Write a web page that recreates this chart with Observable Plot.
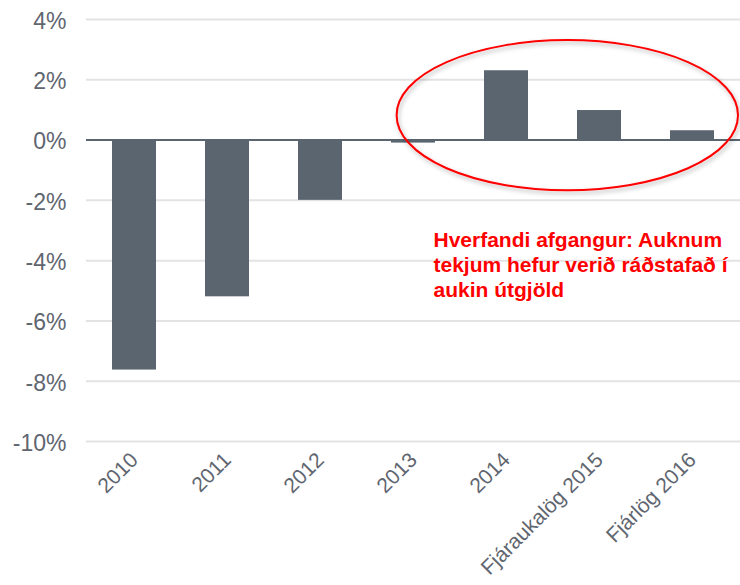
<!DOCTYPE html>
<html><head><meta charset="utf-8">
<script src="https://cdn.jsdelivr.net/npm/d3@7"></script>
<script src="https://cdn.jsdelivr.net/npm/@observablehq/plot@0.6"></script>
<style>body{margin:0;background:#fff} #chart{width:740px;height:585px}</style>
</head><body><div id="chart"></div>
<script>
const categories = ["2010","2011","2012","2013","2014","Fjáraukalög 2015","Fjárlög 2016"];
const values = [-7.63, -5.2, -2.0, -0.1, 2.3, 0.98, 0.31];
const yTicks = [4, 2, 0, -2, -4, -6, -8, -10];
const annotationText = "Hverfandi afgangur: Auknum\ntekjum hefur verið ráðstafað í\naukin útgjöld";
// ellipse annotation in data units: y centre / half-height in %, x from a band to the right edge
const ellipseSpec = {fromCategory: "2013", fromOffset: 0.06, centerY: 0.81, radiusY: 2.49};

const data = categories.map((c, i) => ({category: c, value: values[i]}));

const barColor = "#5b6570";
const labelColor = "#5f6670";
const pInner = 0.53, pOuter = 0.265;

function ellipseMark(index, scales, values, dimensions) {
  const ns = "http://www.w3.org/2000/svg";
  const {width, marginLeft, marginRight} = dimensions;
  const inner = width - marginLeft - marginRight;
  const step = inner / (categories.length - pInner + 2 * pOuter);
  const x0 = scales.x(ellipseSpec.fromCategory) + ellipseSpec.fromOffset * step;
  const x1 = width - marginRight - 2;
  const yc = scales.y(ellipseSpec.centerY);
  const ry = Math.abs(scales.y(ellipseSpec.centerY + ellipseSpec.radiusY) - yc);
  const g = document.createElementNS(ns, "g");
  const defs = document.createElementNS(ns, "defs");
  const filter = document.createElementNS(ns, "filter");
  filter.setAttribute("id", "shadow");
  filter.setAttribute("x", "-10%"); filter.setAttribute("y", "-10%");
  filter.setAttribute("width", "120%"); filter.setAttribute("height", "130%");
  const fe = document.createElementNS(ns, "feDropShadow");
  fe.setAttribute("dx", "1.5"); fe.setAttribute("dy", "2.5");
  fe.setAttribute("stdDeviation", "2");
  fe.setAttribute("flood-color", "#000"); fe.setAttribute("flood-opacity", "0.3");
  filter.appendChild(fe); defs.appendChild(filter); g.appendChild(defs);
  const e = document.createElementNS(ns, "ellipse");
  e.setAttribute("cx", (x0 + x1) / 2);
  e.setAttribute("cy", yc);
  e.setAttribute("rx", (x1 - x0) / 2);
  e.setAttribute("ry", ry);
  e.setAttribute("fill", "none");
  e.setAttribute("stroke", "#ff0000");
  e.setAttribute("stroke-width", "2");
  e.setAttribute("filter", "url(#shadow)");
  g.appendChild(e);
  return g;
}

const plot = Plot.plot({
  width: 740, height: 585,
  marginLeft: 86, marginRight: 0, marginTop: 19, marginBottom: 144,
  style: {fontFamily: "'Liberation Sans', Arial, sans-serif", background: "#fff"},
  x: {domain: categories, paddingInner: pInner, paddingOuter: pOuter, label: null},
  y: {domain: [-10, 4], label: null},
  marks: [
    Plot.ruleY(yTicks.filter(t => t !== 0), {stroke: "#e3e3e3", strokeWidth: 2}),
    Plot.barY(data, {x: "category", y: "value", fill: barColor}),
    Plot.ruleY([0], {stroke: barColor, strokeWidth: 2}),
    Plot.axisY(yTicks, {tickSize: 0, tickPadding: 20, tickFormat: d => d + "%", fontSize: 23, fill: labelColor, dy: 2}),
    Plot.axisX({tickSize: 0, tickPadding: 15, tickRotate: -45, fontSize: 21, fill: labelColor}),
    ellipseMark,
    Plot.text([annotationText], {
      x: () => "2013", y: () => -2.94, text: d => d, dx: 20,
      textAnchor: "start", lineAnchor: "top", lineHeight: 1.2,
      fontSize: 21, fontWeight: "bold", fill: "#ff0000"
    })
  ]
});
document.getElementById("chart").appendChild(plot);
</script>
</body></html>
